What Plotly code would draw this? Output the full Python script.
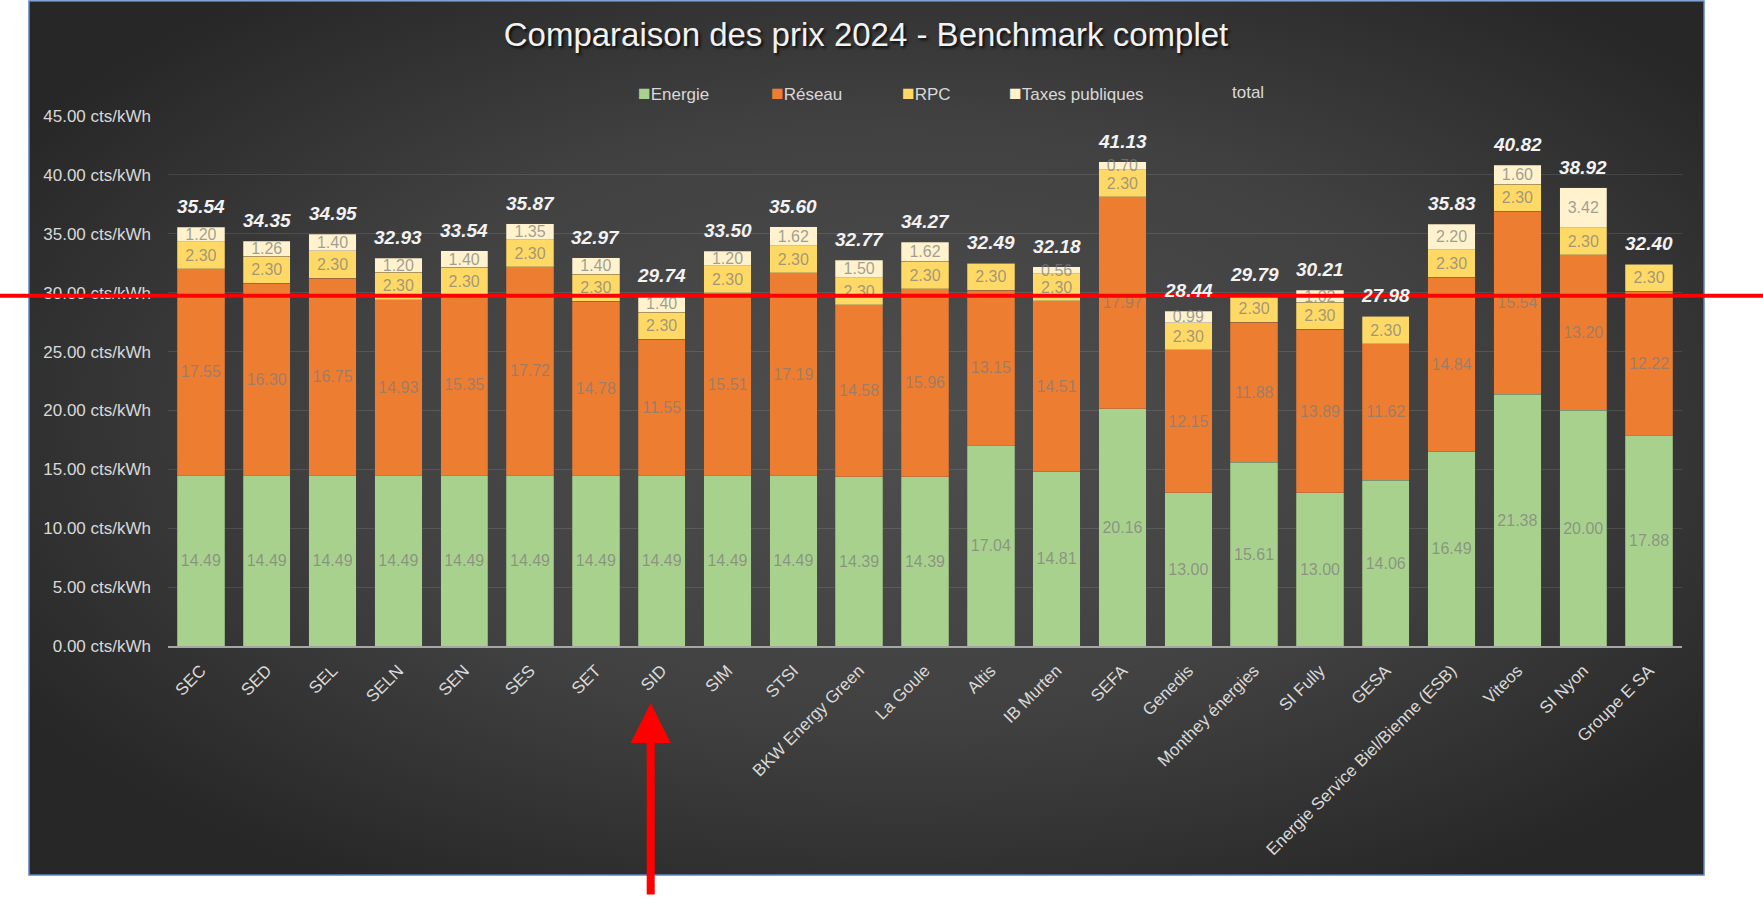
import base64
import plotly.graph_objects as go

# ---------------- data ----------------
categories = ["SEC", "SED", "SEL", "SELN", "SEN", "SES", "SET", "SID", "SIM", "STSI",
              "BKW Energy Green", "La Goule", "Altis", "IB Murten", "SEFA", "Genedis",
              "Monthey énergies", "SI Fully", "GESA", "Energie Service Biel/Bienne (ESB)",
              "Viteos", "SI Nyon", "Groupe E SA"]
energie = [14.49, 14.49, 14.49, 14.49, 14.49, 14.49, 14.49, 14.49, 14.49, 14.49,
           14.39, 14.39, 17.04, 14.81, 20.16, 13.00, 15.61, 13.00, 14.06, 16.49,
           21.38, 20.00, 17.88]
reseau = [17.55, 16.30, 16.75, 14.93, 15.35, 17.72, 14.78, 11.55, 15.51, 17.19,
          14.58, 15.96, 13.15, 14.51, 17.97, 12.15, 11.88, 13.89, 11.62, 14.84,
          15.54, 13.20, 12.22]
rpc = [2.30] * 23
taxes = [1.20, 1.26, 1.40, 1.20, 1.40, 1.35, 1.40, 1.40, 1.20, 1.62,
         1.50, 1.62, 0.00, 0.56, 0.70, 0.99, 0.00, 1.02, 0.00, 2.20,
         1.60, 3.42, 0.00]
totals = [35.54, 34.35, 34.95, 32.93, 33.54, 35.87, 32.97, 29.74, 33.50, 35.60,
          32.77, 34.27, 32.49, 32.18, 41.13, 28.44, 29.79, 30.21, 27.98, 35.83,
          40.82, 38.92, 32.40]
y_ticks = [0, 5, 10, 15, 20, 25, 30, 35, 40, 45]
y_ticktext = [f"{v:.2f} cts/kWh" for v in y_ticks]
highlight = "SID"

# ---------------- styles ----------------
W, H = 1763, 914
ML, MR, MT, MB = 168, 81, 116, 268
PW, PH = W - ML - MR, H - MT - MB


def px_to_paper_x(px):
    return (px - ML) / PW


def px_to_paper_y(py):
    return (H - MB - py) / PH


series = [
    ("Energie", energie, "#a9d18e"),
    ("Réseau", reseau, "#ed7d31"),
    ("RPC", rpc, "#ffd966"),
    ("Taxes publiques", taxes, "#fff2cc"),
]
label_color = "rgba(125,125,125,0.72)"
FONT = "Liberation Sans, Arial, sans-serif"

fig = go.Figure()
for name, vals, col in series:
    fig.add_trace(go.Bar(
        x=categories, y=vals, name=name,
        marker=dict(color=col, line=dict(color="rgba(80,80,80,0.35)", width=0.8)),
        text=[f"{v:.2f}" if v > 0 else "" for v in vals],
        textposition="inside", insidetextanchor="middle", textangle=0,
        constraintext="none", cliponaxis=False,
        textfont=dict(family=FONT, size=16, color=label_color),
        showlegend=False,
    ))

annotations = []
# totals above bars
for c, t in zip(categories, totals):
    annotations.append(dict(
        x=c, y=t, xref="x", yref="y", text=f"{t:.2f}", showarrow=False,
        yanchor="bottom", yshift=8,
        font=dict(family=FONT, size=19, color="#f2f2f2", weight="bold", style="italic"),
    ))

# custom legend
legend_items = [("Energie", "#a9d18e", 636), ("Réseau", "#ed7d31", 769),
                ("RPC", "#ffd966", 900), ("Taxes publiques", "#fff2cc", 1007),
                ("total", None, 1230)]
for name, col, px in legend_items:
    txt = name if col is None else (
        f"<span style='color:{col};font-size:21px'>■</span>{name}")
    annotations.append(dict(
        x=px_to_paper_x(px), y=px_to_paper_y(92), xref="paper", yref="paper",
        xanchor="left", yanchor="middle", text=txt, showarrow=False,
        font=dict(family=FONT, size=17, color="#d9d9d9"),
    ))

# red arrow pointing to the highlighted provider
annotations.append(dict(
    x=highlight, xref="x", y=px_to_paper_y(703), yref="paper",
    ax=0, ay=193, axref="pixel", ayref="pixel", xshift=-11,
    text="", showarrow=True, arrowhead=2, arrowsize=1, arrowwidth=8,
    arrowcolor="#ff0000", standoff=0,
))

# background gradient of the chart area
svg = ("<svg xmlns='http://www.w3.org/2000/svg' width='1675' height='874' "
       "viewBox='0 0 1675 874' preserveAspectRatio='none'>"
       "<defs><radialGradient id='g' cx='52%' cy='48%' r='62%'>"
       "<stop offset='0' stop-color='#4e4e4e'/>"
       "<stop offset='0.55' stop-color='#414141'/>"
       "<stop offset='1' stop-color='#272727'/>"
       "</radialGradient></defs>"
       "<rect x='0' y='0' width='1675' height='874' fill='url(#g)'/></svg>")
svg_uri = "data:image/svg+xml;base64," + base64.b64encode(svg.encode()).decode()

bx0, bx1 = px_to_paper_x(29), px_to_paper_x(1704)
by0, by1 = px_to_paper_y(875), px_to_paper_y(1)

ref_level = totals[categories.index(highlight)]

fig.update_layout(
    width=W, height=H, autosize=False,
    margin=dict(l=ML, r=MR, t=MT, b=MB, pad=0),
    paper_bgcolor="#ffffff", plot_bgcolor="rgba(0,0,0,0)",
    barmode="stack", bargap=0.28,
    showlegend=False,
    title=dict(text="Comparaison des prix 2024 - Benchmark complet",
               x=866 / W, xref="container", xanchor="center",
               y=1 - 34 / H, yref="container", yanchor="middle",
               font=dict(family=FONT, size=33, color="#f2f2f2",
                         shadow="2px 2px 3px rgba(0,0,0,0.8)")),
    xaxis=dict(type="category", tickangle=-45,
               tickfont=dict(family=FONT, size=17, color="#d9d9d9"),
               showline=True, linecolor="#a6a6a6", linewidth=2,
               showgrid=False, ticks="", ticklabelstandoff=6),
    yaxis=dict(range=[0, 45], tickmode="array", tickvals=y_ticks, ticktext=y_ticktext,
               tickfont=dict(family=FONT, size=17, color="#d9d9d9"),
               gridcolor="rgba(255,255,255,0.11)", gridwidth=1,
               zeroline=False, showline=False, ticks="", ticklabelstandoff=16),
    images=[dict(source=svg_uri, xref="paper", yref="paper",
                 x=bx0, y=by1, sizex=bx1 - bx0, sizey=by1 - by0,
                 xanchor="left", yanchor="top", sizing="stretch", layer="below")],
    shapes=[
        dict(type="rect", xref="paper", yref="paper", x0=bx0, x1=bx1, y0=by0, y1=by1,
             line=dict(color="#5b84c8", width=1.5), fillcolor="rgba(0,0,0,0)", layer="below"),
        dict(type="line", xref="paper", yref="y", x0=px_to_paper_x(0), x1=px_to_paper_x(W),
             y0=ref_level, y1=ref_level, line=dict(color="#ff0000", width=4), layer="above"),
    ],
    annotations=annotations,
)

fig.write_html("out.html", config={"displayModeBar": False},
               post_script="document.body.style.margin='0';document.body.style.overflow='hidden';")
